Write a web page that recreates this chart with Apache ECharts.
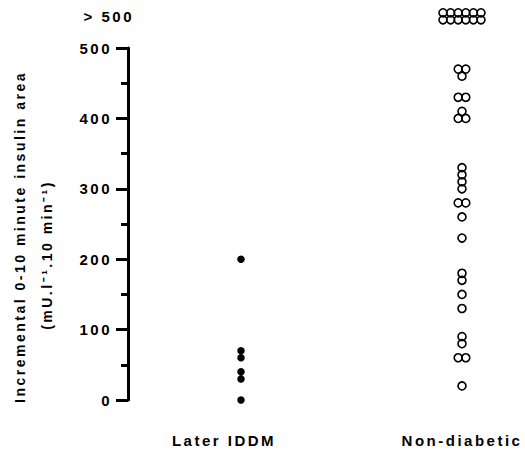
<!DOCTYPE html>
<html>
<head>
<meta charset="utf-8">
<script src="https://cdn.jsdelivr.net/npm/echarts@6/dist/echarts.min.js"></script>
<style>
  html, body { margin: 0; padding: 0; background: #fff; }
  #chart { width: 525px; height: 455px; }
  /* wide tracking on all chart text */
  #chart text { letter-spacing: 2.5px; }
</style>
</head>
<body>
<div id="chart"></div>
<script>
// Group labels along the bottom
const groups = ['Later IDDM', 'Non-diabetic'];

// Incremental 0-10 minute insulin area per subject (mU.l-1.10 min-1)
const laterIDDM = [200, 70, 60, 40, 30, 0];
// Subjects above 500 are plotted in the overflow band above the axis (values 540 / 550)
const nonDiabetic = [
  550, 550, 550, 550, 550, 550,
  540, 540, 540, 540, 540, 540,
  470, 470, 460, 430, 430, 410, 400, 400,
  330, 320, 310, 300, 280, 280, 260, 230,
  180, 170, 150, 130, 90, 80, 60, 60, 20
];

// Y-axis tick labels
const yTicks = [0, 100, 200, 300, 400, 500];
const overflowLabel = '> 500';
const overflowValue = 545;

const FONT = '"Liberation Sans", Arial, Helvetica, sans-serif';
const SPREAD = 7.6; // horizontal spacing between tied points, px

// Tied values are spread side by side, centred on the group column
function spreadPoints(values, x) {
  const counts = {}, seen = {};
  values.forEach(v => { counts[v] = (counts[v] || 0) + 1; });
  return values.map(v => {
    const i = seen[v] || 0;
    seen[v] = i + 1;
    const off = (i - (counts[v] - 1) / 2) * SPREAD;
    return { value: [x, v], symbolOffset: [off, 0] };
  });
}

const chart = echarts.init(document.getElementById('chart'), null, { renderer: 'svg' });

const option = {
  animation: false,
  backgroundColor: '#ffffff',
  grid: { left: 128, right: 0, top: 48, bottom: 55, containLabel: false },
  xAxis: {
    type: 'value',
    min: 0.4887,
    max: 2.2851,
    axisLine: { show: false },
    axisTick: { show: false },
    splitLine: { show: false },
    axisLabel: {
      customValues: [1, 2],
      margin: 33,
      verticalAlign: 'top',
      color: '#000',
      fontFamily: FONT,
      fontSize: 15,
      fontWeight: 'bold',
      formatter: v => {
        const name = groups[Math.round(v) - 1];
        return Math.round(v) === 1 ? '{a|' + name + '}' : name;
      },
      rich: {
        a: {
          color: '#000', fontFamily: FONT, fontSize: 15, fontWeight: 'bold',
          padding: [0, 34, 0, 0]
        }
      }
    }
  },
  yAxis: {
    type: 'value',
    min: 0,
    max: 500,
    interval: 100,
    axisLine: { show: true, lineStyle: { color: '#000', width: 3 } },
    axisTick: { show: true, length: 12, lineStyle: { color: '#000', width: 3 } },
    minorTick: { show: true, splitNumber: 2, length: 7, lineStyle: { color: '#000', width: 3 } },
    splitLine: { show: false },
    minorSplitLine: { show: false },
    axisLabel: {
      margin: 16,
      color: '#000',
      fontFamily: FONT,
      fontSize: 15,
      fontWeight: 'bold',
      customValues: yTicks
    }
  },
  series: [
    {
      name: groups[0],
      type: 'scatter',
      clip: false,
      symbol: 'circle',
      symbolSize: 7.5,
      itemStyle: { color: '#000', opacity: 1 },
      data: spreadPoints(laterIDDM, 1)
    },
    {
      name: groups[1],
      type: 'scatter',
      clip: false,
      symbol: 'circle',
      symbolSize: 8,
      itemStyle: { color: 'rgba(255,255,255,0)', borderColor: '#000', borderWidth: 1.6, opacity: 1 },
      data: spreadPoints(nonDiabetic, 2)
    }
  ]
};

chart.setOption(option);

// Overflow label and the two-line axis title
const axisX = chart.convertToPixel({ xAxisIndex: 0 }, 0.4887);
const overflowY = chart.convertToPixel({ yAxisIndex: 0 }, overflowValue);

chart.setOption({
  graphic: [
    {
      type: 'text',
      x: axisX + 6,
      y: overflowY,
      style: {
        text: overflowLabel,
        fill: '#000',
        font: 'bold 15px ' + FONT,
        textAlign: 'right',
        textVerticalAlign: 'middle'
      }
    },
    {
      type: 'text',
      x: 20,
      y: 237,
      rotation: Math.PI / 2,
      style: {
        text: 'Incremental 0-10 minute insulin area',
        fill: '#000',
        font: 'bold 14px ' + FONT,
        textAlign: 'center',
        textVerticalAlign: 'middle'
      }
    },
    {
      type: 'text',
      x: 47,
      y: 255,
      rotation: Math.PI / 2,
      style: {
        text: '(mU.l\u207B\u00B9.10 min\u207B\u00B9)',
        fill: '#000',
        font: 'bold 14px ' + FONT,
        textAlign: 'center',
        textVerticalAlign: 'middle'
      }
    }
  ]
});
</script>
</body>
</html>
